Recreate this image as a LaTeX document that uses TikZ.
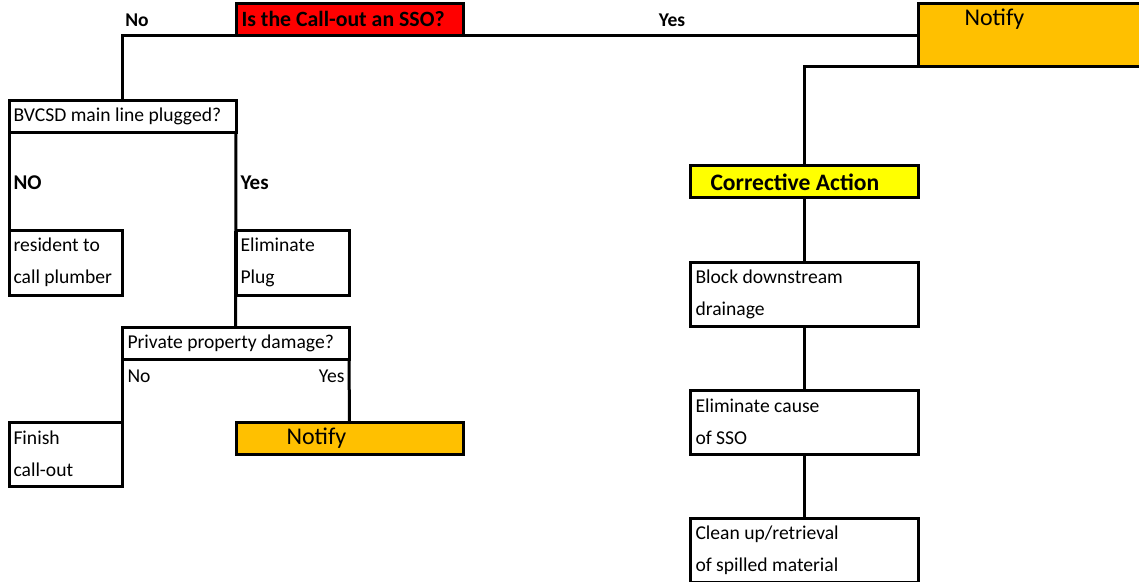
\documentclass[tikz,border=0pt]{standalone}
\usepackage{fontspec}
\setmainfont{Carlito}
\definecolor{ssored}{RGB}{255,0,0}
\definecolor{notifyor}{RGB}{255,192,0}
\definecolor{cayellow}{RGB}{255,255,0}
\begin{document}
\begin{tikzpicture}[x=1pt,y=-1pt,line width=3pt,
  box/.style={draw=black,line width=3pt,rectangle,inner sep=0pt,outer sep=0pt,anchor=north west},
  txt/.style={font=\fontsize{19.6}{32}\selectfont,inner sep=0pt,anchor=west,text=black},
  two/.style={txt,align=left,anchor=west},
  titleb/.style={font=\bfseries\fontsize{21.8}{26}\selectfont,inner sep=0pt,anchor=west},
  bigb/.style={font=\bfseries\fontsize{23.6}{28}\selectfont,inner sep=0pt,anchor=west},
  midb/.style={font=\bfseries\fontsize{21}{26}\selectfont,inner sep=0pt,anchor=west},
  smallb/.style={font=\bfseries\fontsize{19.5}{22}\selectfont,inner sep=0pt},
  bignote/.style={font=\fontsize{24}{28}\selectfont,inner sep=0pt,anchor=west},
  link/.style={draw=black,line width=3pt}]
\useasboundingbox (0,0) rectangle (1139,581);
\clip (0,0) rectangle (1139,581);
% boxes
\node[box,fill=ssored,minimum width=227pt,minimum height=32pt] (q) at (236,3) {};
\node[box,fill=notifyor,minimum width=240pt,minimum height=63pt] (n1) at (918,3) {};
\node[box,minimum width=227pt,minimum height=32pt] (bv) at (9,100) {};
\node[box,minimum width=113pt,minimum height=65pt] (res) at (9,230) {};
\node[box,minimum width=113pt,minimum height=65pt] (elim) at (236,230) {};
\node[box,minimum width=227pt,minimum height=32pt] (pp) at (122,327) {};
\node[box,minimum width=113pt,minimum height=64pt] (fin) at (9,422) {};
\node[box,fill=notifyor,minimum width=227pt,minimum height=32pt] (n2) at (236,422) {};
\node[box,fill=cayellow,minimum width=228pt,minimum height=32pt] (ca) at (690,165) {};
\node[box,minimum width=228pt,minimum height=64pt] (blk) at (690,262) {};
\node[box,minimum width=228pt,minimum height=64pt] (ec) at (690,390) {};
\node[box,minimum width=228pt,minimum height=64pt] (cu) at (690,518) {};
% connectors
\draw[link] (bv.north) |- (q.south west);
\draw[link] (q.south east) -- (q.south east -| n1.west);
\draw[link] (ca.north) |- (n1.south west);
\draw[link] (bv.south west) -- (res.north west);
\draw[link] (bv.south east) -- (pp.north);
\draw[link] (pp.south west) -- (fin.north east);
\draw[link] (pp.south east) -- (n2.north);
\draw[link] (ca.south) -- (blk.north);
\draw[link] (blk.south) -- (ec.north);
\draw[link] (ec.south) -- (cu.north);
% texts
\node[titleb] (qt) at (240,19) {Is the Call-out an SSO?};
\node[smallb] (lno) at (137,20) {No};
\node[smallb] (lyes) at (672,20) {Yes};
\node[bignote] (n1t) at (963,19) {Notify};
\node[txt] (bvt) at (12,116) {BVCSD main line plugged?};
\node[midb] (lNO) at (12,183) {NO};
\node[midb] (lYes) at (239,183) {Yes};
\node[two] (rest) at (12,262.5) {resident to\\call plumber};
\node[two] (elimt) at (239,262.5) {Eliminate\\Plug};
\node[txt] (ppt) at (126,343) {Private property damage?};
\node[txt] (ppno) at (126,376) {No};
\node[txt,anchor=east] (ppyes) at (346,376) {Yes};
\node[two] (fint) at (12,454) {Finish\\call-out};
\node[bignote] (n2t) at (285,438) {Notify};
\node[bigb] (cat) at (709,182) {Corrective Action};
\node[two] (blkt) at (694,294) {Block downstream\\drainage};
\node[two] (ect) at (694,422) {Eliminate cause\\of SSO};
\node[two] (cut) at (694,550) {Clean up/retrieval\\of spilled material};
\end{tikzpicture}
\end{document}
